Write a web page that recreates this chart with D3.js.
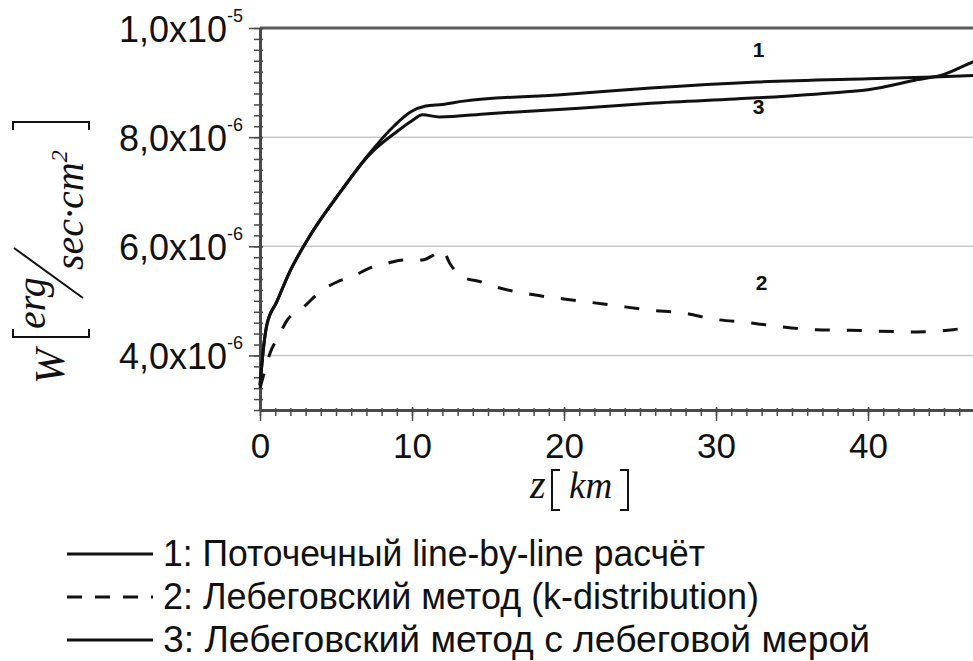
<!DOCTYPE html>
<html>
<head>
<meta charset="utf-8">
<script src="https://cdn.jsdelivr.net/npm/d3@7"></script>
<style>
  body { margin: 0; background: #fff; }
  svg { display: block; }
</style>
</head>
<body>
<svg id="chart" width="973" height="661"></svg>
<script>

// W values are in units of 1e-6 erg/(sec*cm^2), z in km
const z1 = [0, 0.3, 0.45, 1.1, 1.9, 3.3, 5.3, 7.2, 8.8, 9.9, 10.9, 12, 13.4, 20, 25.7, 32.7, 40, 44.3, 50]
const w1 = [3.45, 4.3, 4.56, 4.98, 5.5, 6.2, 7.0, 7.7, 8.2, 8.46, 8.57, 8.6, 8.66, 8.78, 8.9, 9.01, 9.07, 9.1, 9.16]

const z2 = [0, 0.3, 0.66, 1.2, 1.8, 2.8, 4.1, 5.1, 6.25, 7.2, 8.4, 9.4, 10.7, 11.3, 12, 12.5, 13.3, 14.5, 15.6, 17.8, 21, 23.2, 25.7, 27.8, 30, 32.2, 34.4, 36.6, 38.8, 43.2, 45.6, 46.7, 50]
const w2 = [3.4, 3.7, 4.04, 4.34, 4.65, 4.87, 5.2, 5.35, 5.47, 5.6, 5.69, 5.75, 5.75, 5.82, 5.93, 5.68, 5.44, 5.35, 5.25, 5.12, 5.0, 4.92, 4.83, 4.78, 4.66, 4.6, 4.52, 4.47, 4.46, 4.43, 4.47, 4.52, 4.62]

const z3 = [0, 0.3, 0.45, 1.1, 1.9, 3.3, 5.3, 7.2, 9, 10, 10.7, 11.8, 15, 21, 25.7, 32.7, 38, 40, 43.2, 45, 46.9, 50]
const w3 = [3.45, 4.3, 4.56, 4.98, 5.5, 6.2, 7.0, 7.68, 8.1, 8.3, 8.41, 8.37, 8.43, 8.53, 8.62, 8.72, 8.82, 8.87, 9.05, 9.15, 9.38, 9.7]

const xTicks = [0, 10, 20, 30, 40]
const yTicks = [4, 6, 8, 10]
const yTickMant = ['4,0x10', '6,0x10', '8,0x10', '1,0x10']
const yTickExp = ['-6', '-6', '-6', '-5']
const gridValues = [4, 6, 8]

const curveNames = ['1', '2', '3']
const curveLabelZ = [32.8, 33, 32.8]
const curveLabelW = [9.6, 5.33, 8.57]

const legendLabels = [
    '1: Поточечный line-by-line расчёт',
    '2: Лебеговский метод (k-distribution)',
    '3: Лебеговский метод с лебеговой мерой'
]

const svg = d3.select('#chart')

const x = d3.scaleLinear().domain([0, 50]).range([260, 1020])
const y = d3.scaleLinear().domain([3, 10]).range([410, 28])

const axisColor = '#4a4a4a'

// grid + top frame
svg.append('g').selectAll('line').data(gridValues).enter()
    .append('line')
    .attr('x1', x(0)).attr('x2', x(50))
    .attr('y1', d => y(d)).attr('y2', d => y(d))
    .attr('stroke', '#c8c8c8').attr('stroke-width', 1.5)

svg.append('line')
    .attr('x1', x(0)).attr('x2', x(50))
    .attr('y1', y(10)).attr('y2', y(10))
    .attr('stroke', '#5a5a5a').attr('stroke-width', 3)

// y axis
const yMinor = svg.append('g').attr('transform', `translate(${x(0)},0)`)
    .call(d3.axisLeft(y).tickValues(d3.range(30, 101, 2).map(d => d / 10)).tickSize(6).tickSizeOuter(0).tickFormat(''))
yMinor.selectAll('.tick line').attr('x1', 3).attr('stroke', axisColor).attr('stroke-width', 1.5)
yMinor.select('.domain').remove()

const yMajor = svg.append('g').attr('transform', `translate(${x(0)},0)`)
    .call(d3.axisLeft(y).tickValues(yTicks).tickSize(11).tickSizeOuter(0).tickFormat(''))
yMajor.selectAll('.tick line').attr('x1', 3).attr('stroke', axisColor).attr('stroke-width', 1.5)
yMajor.select('.domain').attr('stroke', axisColor).attr('stroke-width', 3)

const yLab = svg.append('g')
    .attr('font-family', '"Liberation Sans", Arial, sans-serif')
    .attr('fill', '#111')
    .selectAll('text').data(yTicks).enter()
    .append('text')
    .attr('x', 243)
    .attr('y', d => y(d) + 14)
    .attr('text-anchor', 'end')

yLab.append('tspan').attr('font-size', 36).text((d, i) => yTickMant[i])
yLab.append('tspan').attr('font-size', 18).attr('dy', -20).text((d, i) => yTickExp[i])

// x axis
const xMinor = svg.append('g').attr('transform', `translate(0,${y(3)})`)
    .call(d3.axisBottom(x).tickValues(d3.range(0, 51, 1)).tickSize(6).tickSizeOuter(0).tickFormat(''))
xMinor.selectAll('.tick line').attr('y1', -2).attr('stroke', axisColor).attr('stroke-width', 1.5)
xMinor.select('.domain').remove()

const xMajor = svg.append('g').attr('transform', `translate(0,${y(3)})`)
    .call(d3.axisBottom(x).tickValues(xTicks).tickSize(11).tickSizeOuter(0).tickPadding(12).tickFormat(d3.format('d')))
xMajor.selectAll('.tick line').attr('y1', -3).attr('stroke', axisColor).attr('stroke-width', 1.5)
xMajor.select('.domain').attr('stroke', axisColor).attr('stroke-width', 3)
xMajor.selectAll('.tick text')
    .attr('font-family', '"Liberation Sans", Arial, sans-serif')
    .attr('font-size', 35)
    .attr('fill', '#111')

// curves
const line = d3.line().x(d => x(d[0])).y(d => y(d[1])).curve(d3.curveMonotoneX)

const series = [
    { pts: d3.zip(z1, w1), dash: null },
    { pts: d3.zip(z2, w2), dash: '15,17' },
    { pts: d3.zip(z3, w3), dash: null }
]

svg.append('g').selectAll('path').data(series).enter()
    .append('path')
    .attr('d', d => line(d.pts))
    .attr('fill', 'none')
    .attr('stroke', '#111')
    .attr('stroke-width', 3)
    .attr('stroke-linejoin', 'round')
    .attr('stroke-dasharray', d => d.dash)

svg.append('g').selectAll('text').data(curveNames).enter()
    .append('text')
    .attr('x', (d, i) => x(curveLabelZ[i]))
    .attr('y', (d, i) => y(curveLabelW[i]))
    .attr('dy', '0.36em')
    .attr('text-anchor', 'middle')
    .attr('font-family', '"Liberation Sans", Arial, sans-serif')
    .attr('font-weight', 'bold')
    .attr('font-size', 21)
    .attr('fill', '#111')
    .text(d => d)

// axis titles
const serif = '"Liberation Serif", "Times New Roman", serif'

const zt = svg.append('text')
    .attr('font-family', serif).attr('font-style', 'italic').attr('fill', '#111')
zt.append('tspan').attr('x', 530).attr('y', 498).attr('font-size', 40).text('z')
zt.append('tspan').attr('x', 569).attr('y', 498).attr('font-size', 37).text('km')

const brackets = svg.append('g').attr('fill', 'none').attr('stroke', '#111').attr('stroke-width', 2)
brackets.append('path').attr('d', 'M560,470H552V510H560')
brackets.append('path').attr('d', 'M620,470H628V510H620')

// y title, rotated (u = -screenY, v = screenX)
const yt = svg.append('g').attr('transform', 'rotate(-90)')
    .attr('font-family', serif).attr('font-style', 'italic').attr('fill', '#111')
yt.append('text').attr('x', -384).attr('y', 64).attr('font-size', 42).text('W')
yt.append('text').attr('x', -329).attr('y', 45).attr('font-size', 40).text('erg')
const sc = yt.append('text').attr('x', -270).attr('y', 83).attr('font-size', 40)
sc.append('tspan').text('sec·cm')
sc.append('tspan').attr('font-size', 24).attr('dy', -16).text('2')

brackets.append('path').attr('d', 'M13,130V122H89V130')
brackets.append('path').attr('d', 'M13,329V337H89V329')
brackets.append('path').attr('d', 'M14,248L83,298')

// legend
const legend = svg.append('g').selectAll('g').data(legendLabels).enter()
    .append('g')
    .attr('transform', (d, i) => `translate(0,${554 + i * 43})`)

legend.append('line')
    .attr('x1', 67).attr('x2', 153)
    .attr('stroke', '#111').attr('stroke-width', 3)
    .attr('stroke-dasharray', (d, i) => series[i].dash ? '15,13' : null)

const legendWidths = [542, 596, 707]
legend.append('text')
    .attr('x', 163)
    .attr('y', 12)
    .attr('font-family', '"Liberation Sans Narrow", "Liberation Sans", Arial, sans-serif')
    .attr('font-size', 36)
    .attr('fill', '#111')
    .attr('textLength', (d, i) => legendWidths[i])
    .attr('lengthAdjust', 'spacingAndGlyphs')
    .text(d => d)

</script>
</body>
</html>
